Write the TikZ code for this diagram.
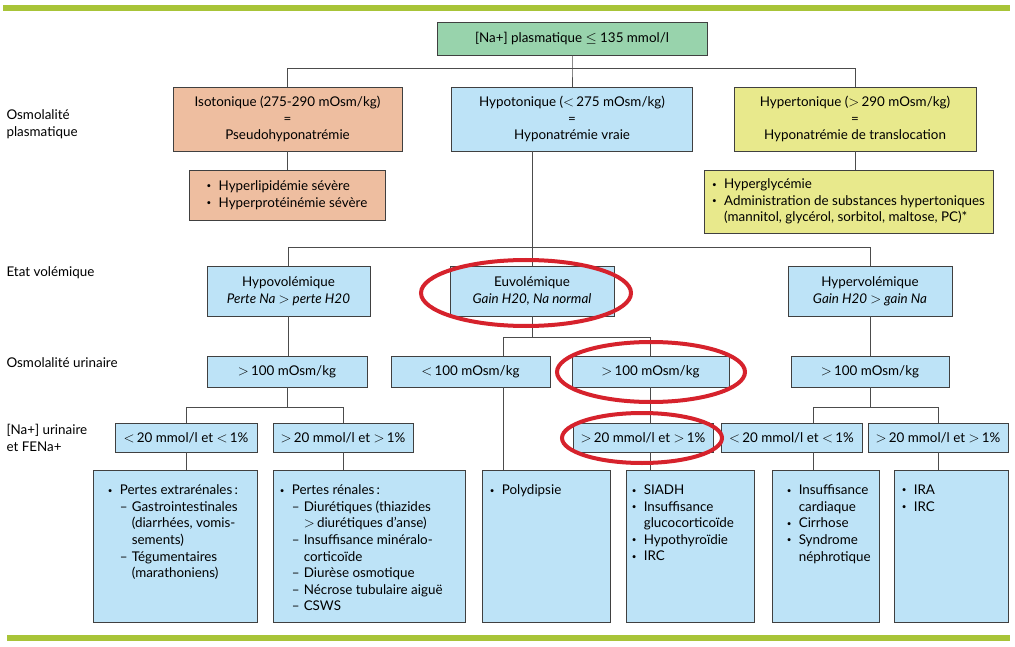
\documentclass[tikz,border=0pt]{standalone}
\usepackage{fontspec}
\setmainfont{Lato}
\usepackage{tikz}
\usetikzlibrary{shapes.geometric,calc}
\definecolor{bleu}{RGB}{189,227,247}
\definecolor{saumon}{RGB}{238,190,160}
\definecolor{jaune}{RGB}{232,233,140}
\definecolor{menthe}{RGB}{152,211,172}
\definecolor{olive}{RGB}{168,196,56}
\definecolor{rouge}{RGB}{214,34,44}
\newcommand{\puce}{\makebox[12pt][l]{\raisebox{1.5pt}{\scalebox{0.6}{\textbullet}}}}
\newcommand{\tiret}{\makebox[12pt][l]{--}}

\begin{document}
\begin{tikzpicture}[x=1pt,y=-1pt,font=\fontsize{13.4}{16.6}\selectfont,
 bx/.style={draw=black!75,line width=0.8pt,fill=bleu,inner sep=0pt,align=center},
 sz/.style 2 args={minimum width=#1pt,minimum height=#2pt},
 lst/.style={anchor=north west,align=left,inner sep=0pt},
 lbl/.style={anchor=west,align=left},
 ln/.style={draw=black!70,line width=0.8pt},
 barre/.style={draw=olive,line width=6pt},
 hl/.style={ellipse,draw=rouge,line width=4pt,inner sep=0pt}]
\useasboundingbox (0,0) rectangle (1015,647);
\fill[white] (0,0) rectangle (1015,647);
\draw[barre] (3,8.5) -- (1010,8.5);
\draw[barre] (7,638) -- (1010,638);
\node[lbl] (lOsmP) at (3,124) {Osmolalité\\plasmatique};
\node[lbl] (lEtat) at (3,273) {Etat volémique};
\node[lbl] (lOsmU) at (3,363) {Osmolalité urinaire};
\node[lbl] (lNa) at (3,438) {[Na+] urinaire\\et FENa+};
\node[bx,fill=menthe,sz={270}{33}] (top) at (572,38.5) {[Na+] plasmatique $\leq$ 135 mmol/l};
\node[bx,fill=saumon,sz={229}{64}] (iso) at (287.5,119) {Isotonique (275-290 mOsm/kg)\\=\\Pseudohyponatrémie};
\node[bx,sz={241}{64}] (hypo) at (572,119) {Hypotonique ($<$\,275 mOsm/kg)\\=\\Hyponatrémie vraie};
\node[bx,fill=jaune,sz={242}{64}] (hyper) at (855,119) {Hypertonique ($>$\,290 mOsm/kg)\\=\\Hyponatrémie de translocation};
\node[bx,fill=saumon,sz={196}{50},align=left] (isoC) at (287,195) {\puce Hyperlipidémie sévère\\\puce Hyperprotéinémie sévère};
\node[bx,fill=jaune,sz={289}{63},align=left] (hyperC) at (848.5,201.5) {\puce Hyperglycémie\\\puce Administration de substances hypertoniques\\\hspace*{12pt}(mannitol, glycérol, sorbitol, maltose, PC)*};
\node[bx,sz={163}{50}] (hypovol) at (288.5,291) {Hypovolémique\\\textit{Perte Na $>$ perte H20}};
\node[bx,sz={164}{50}] (euvol) at (532,291) {Euvolémique\\\textit{Gain H20, Na normal}};
\node[bx,sz={164}{50}] (hypervol) at (870,291) {Hypervolémique\\\textit{Gain H20 $>$ gain Na}};
\node[bx,sz={160}{31}] (ou1) at (287,371.5) {$>$\,100 mOsm/kg};
\node[bx,sz={159}{31}] (ou2) at (470.5,371.5) {$<$\,100 mOsm/kg};
\node[bx,sz={157}{31}] (ou3) at (650.5,371.5) {$>$\,100 mOsm/kg};
\node[bx,sz={158}{31}] (ou4) at (870,371.5) {$>$\,100 mOsm/kg};
\node[bx,sz={142}{29}] (n1) at (186,437.5) {$<$\,20 mmol/l et $<$\,1\%};
\node[bx,sz={140}{29}] (n2) at (343,437.5) {$>$\,20 mmol/l et $>$\,1\%};
\node[bx,sz={140}{29}] (n3) at (643,437.5) {$>$\,20 mmol/l et $>$\,1\%};
\node[bx,sz={141}{29}] (n4) at (791.5,437.5) {$<$\,20 mmol/l et $<$\,1\%};
\node[bx,sz={140}{29}] (n5) at (938,437.5) {$>$\,20 mmol/l et $>$\,1\%};
\node[bx,sz={164}{152}] (b1) at (175,546) {};
\node[bx,sz={192}{152}] (b2) at (369,546) {};
\node[bx,sz={128}{152}] (b3) at (546,546) {};
\node[bx,sz={128}{152}] (b4) at (690,546) {};
\node[bx,sz={107}{152}] (b5) at (825.5,546) {};
\node[bx,sz={114}{152}] (b6) at (951,546) {};
\node[lst] (b1t) at ([xshift=15pt,yshift=-15pt]b1.north west) {\puce Pertes extrarénales\,:\\\hspace*{12pt}\tiret Gastrointestinales\\\hspace*{24pt}(diarrhées, vomis-\\\hspace*{24pt}sements)\\\hspace*{12pt}\tiret Tégumentaires\\\hspace*{24pt}(marathoniens)};
\node[lst] (b2t) at ([xshift=7pt,yshift=-15pt]b2.north west) {\puce Pertes rénales\,:\\\hspace*{12pt}\tiret Diurétiques (thiazides\\\hspace*{24pt}$>$\,diurétiques d’anse)\\\hspace*{12pt}\tiret Insuffisance minéralo-\\\hspace*{24pt}corticoïde\\\hspace*{12pt}\tiret Diurèse osmotique\\\hspace*{12pt}\tiret Nécrose tubulaire aiguë\\\hspace*{12pt}\tiret CSWS};
\node[lst] (b3t) at ([xshift=8pt,yshift=-15pt]b3.north west) {\puce Polydipsie};
\node[lst] (b4t) at ([xshift=6pt,yshift=-15pt]b4.north west) {\puce SIADH\\\puce Insuffisance\\\hspace*{12pt}glucocorticoïde\\\puce Hypothyroïdie\\\puce IRC};
\node[lst] (b5t) at ([xshift=15pt,yshift=-15pt]b5.north west) {\puce Insuffisance\\\hspace*{12pt}cardiaque\\\puce Cirrhose\\\puce Syndrome\\\hspace*{12pt}néphrotique};
\node[lst] (b6t) at ([xshift=8pt,yshift=-15pt]b6.north west) {\puce IRA\\\puce IRC};
\coordinate (r1) at (0,68);
\coordinate (r2) at (0,247);
\coordinate (r3) at (0,337);
\coordinate (r4) at (0,407);
\coordinate (j2) at (503,337);
\coordinate (j4) at (813,407);
\draw[ln] (top) -- (top |- r1) -- (hypo);
\draw[ln] (iso) |- (hyper |- r1) -- (hyper);
\foreach \a/\b in {iso/isoC,hyper/hyperC,hypovol/ou1,hypervol/ou4,n1/b1,n2/b2,n5/b6,ou3/n3}
 \draw[ln] (\a) -- (\a |- \b.north);
\draw[ln] (hypovol) |- (hypervol |- r2) -- (hypervol);
\draw[ln] (hypo.south -| euvol) -- (euvol);
\draw[ln] (euvol) -- (euvol |- r3);
\draw[ln] (ou2.north -| j2) |- (ou3 |- r3) -- (ou3);
\draw[ln] (ou1) -- (ou1 |- r4);
\draw[ln] (n1) |- (n2 |- r4) -- (n2);
\draw[ln] (ou4) -- (ou4 |- r4);
\draw[ln] (n4.north -| j4) |- (n5 |- r4) -- (n5);
\draw[ln] (ou2.south -| j2) -- (j2 |- b3.north);
\draw[ln] (n3.south -| ou3) -- (ou3 |- b4.north);
\draw[ln] (n4.south -| j4) -- (j4 |- b5.north);
\node[hl,minimum width=210pt,minimum height=66pt] (c1) at (526,293) {};
\node[hl,minimum width=188pt,minimum height=60pt] (c2) at (651,372) {};
\node[hl,minimum width=160pt,minimum height=50pt] (c3) at (642,438) {};
\end{tikzpicture}
\end{document}
